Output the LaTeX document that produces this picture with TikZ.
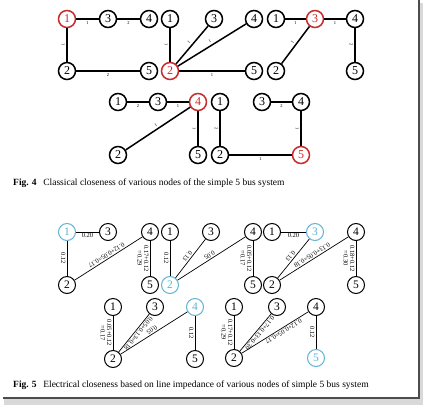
\documentclass[tikz,border=0pt]{standalone}
\usepackage{fontspec}
\setmainfont{Liberation Serif}
\definecolor{nred}{RGB}{200,45,45}
\definecolor{ncyan}{RGB}{95,180,210}
\begin{document}
\begin{tikzpicture}[x=1pt,y=-1pt,
  bus4/.style={circle,draw,line width=1.5pt,minimum size=17pt,inner sep=0pt,fill=white,font=\fontsize{12}{12}\selectfont},
  bus5/.style={circle,draw,line width=1pt,minimum size=17pt,inner sep=0pt,fill=white,font=\fontsize{11.5}{12}\selectfont},
  hot4/.style={draw=nred,text=nred},
  hot5/.style={draw=ncyan,text=ncyan},
  e4/.style={line width=1.5pt},
  e5/.style={line width=0.7pt},
  l4/.style={midway,sloped,allow upside down,below,inner sep=1.5pt,font=\fontsize{4.5}{5}\selectfont},
  l5/.style={midway,sloped,allow upside down,below,inner sep=1.2pt,font=\fontsize{6.5}{6.5}\selectfont,align=center},
  l5r/.style={l5,above},
  captxt/.style={anchor=base west,inner sep=0pt,font=\fontsize{9.5}{11}\selectfont}]
\useasboundingbox (0,0) rectangle (423,405);
\fill[white] (0,0) rectangle (423,405);
% frame shadow
\fill[gray!30] (4,399) rectangle (423,405);
\fill[gray!30] (420,3) rectangle (423,405);
\draw[black!70,line width=2pt] (3,398) -- (419,398) -- (419,0);

% ---------- Fig 4 ----------
% graph A
\node[bus4,hot4] (a1) at (67,19) {1};
\node[bus4] (a3) at (108,19) {3};
\node[bus4] (a4) at (149,19) {4};
\node[bus4] (a2) at (67,71) {2};
\node[bus4] (a5) at (149,71) {5};
\draw[e4] (a1) -- node[l4]{1} (a3);
\draw[e4] (a3) -- node[l4]{2} (a4);
\draw[e4] (a1) -- node[l4]{1} (a2);
\draw[e4] (a2) -- node[l4]{2} (a5);
% graph B
\node[bus4] (b1) at (170,19) {1};
\node[bus4] (b3) at (214,19) {3};
\node[bus4] (b4) at (254,19) {4};
\node[bus4,hot4] (b2) at (170,71) {2};
\node[bus4] (b5) at (254,71) {5};
\draw[e4] (b1) -- node[l4]{1} (b2);
\draw[e4] (b3) -- node[l4]{1} (b2);
\draw[e4] (b4) -- node[l4]{1} (b2);
\draw[e4] (b2) -- node[l4]{1} (b5);
% graph C
\node[bus4] (c1) at (276,19) {1};
\node[bus4,hot4] (c3) at (315,19) {3};
\node[bus4] (c4) at (355,19) {4};
\node[bus4] (c2) at (276,71) {2};
\node[bus4] (c5) at (355,71) {5};
\draw[e4] (c1) -- node[l4]{1} (c3);
\draw[e4] (c3) -- node[l4]{1} (c4);
\draw[e4] (c3) -- node[l4]{1} (c2);
\draw[e4] (c4) -- node[l4]{2} (c5);
% graph D
\node[bus4] (d1) at (118,102) {1};
\node[bus4] (d3) at (158,102) {3};
\node[bus4,hot4] (d4) at (198,102) {4};
\node[bus4] (d2) at (118,155) {2};
\node[bus4] (d5) at (198,155) {5};
\draw[e4] (d1) -- node[l4]{2} (d3);
\draw[e4] (d3) -- node[l4]{1} (d4);
\draw[e4] (d4) -- node[l4]{1} (d2);
\draw[e4] (d4) -- node[l4]{1} (d5);
% graph E
\node[bus4] (e1) at (220,102) {1};
\node[bus4] (e3) at (262,102) {3};
\node[bus4] (e4) at (301,102) {4};
\node[bus4] (e2) at (220,155) {2};
\node[bus4,hot4] (e5) at (301,155) {5};
\draw[e4] (e1) -- node[l4]{2} (e2);
\draw[e4] (e2) -- node[l4]{1} (e5);
\draw[e4] (e4) -- node[l4]{1} (e5);
\draw[e4] (e3) -- node[l4]{2} (e4);

\node[captxt] (cap4) at (13,185) {\textbf{Fig. 4}\hspace{0.7em}Classical closeness of various nodes of the simple 5 bus system};

% ---------- Fig 5 ----------
% graph F
\node[bus5,hot5] (f1) at (67,232) {1};
\node[bus5] (f3) at (108,232) {3};
\node[bus5] (f4) at (150,232) {4};
\node[bus5] (f2) at (67,285) {2};
\node[bus5] (f5) at (150,285) {5};
\draw[e5] (f1) -- node[l5]{0.20} (f3);
\draw[e5] (f1) -- node[l5]{0.12} (f2);
\draw[e5] (f4) -- node[l5]{0.12+0.05=0.17} (f2);
\draw[e5] (f4) -- node[l5]{0.17+0.12\\=0.29} (f5);
% graph G
\node[bus5] (g1) at (170,232) {1};
\node[bus5] (g3) at (211,232) {3};
\node[bus5] (g4) at (253,232) {4};
\node[bus5,hot5] (g2) at (170,285) {2};
\node[bus5] (g5) at (253,285) {5};
\draw[e5] (g1) -- node[l5]{0.12} (g2);
\draw[e5] (g3) -- node[l5]{0.13} (g2);
\draw[e5] (g4) -- node[l5]{0.05} (g2);
\draw[e5] (g4) -- node[l5]{0.05+0.12\\=0.17} (g5);
% graph H
\node[bus5] (h1) at (272,232) {1};
\node[bus5,hot5] (h3) at (315,232) {3};
\node[bus5] (h4) at (356,232) {4};
\node[bus5] (h2) at (272,285) {2};
\node[bus5] (h5) at (356,285) {5};
\draw[e5] (h1) -- node[l5]{0.20} (h3);
\draw[e5] (h3) -- node[l5]{0.13} (h2);
\draw[e5] (h4) -- node[l5]{0.13+0.05=0.18} (h2);
\draw[e5] (h4) -- node[l5]{0.18+0.12\\=0.30} (h5);
% graph I
\node[bus5] (i1) at (113,307) {1};
\node[bus5] (i3) at (155,307) {3};
\node[bus5,hot5] (i4) at (195,307) {4};
\node[bus5] (i2) at (113,359) {2};
\node[bus5] (i5) at (195,359) {5};
\draw[e5] (i1) -- node[l5]{0.05+0.12\\=0.17} (i2);
\draw[e5] (i3) -- node[l5r,pos=0.45]{0.05+0.13=0.18} (i2);
\draw[e5] (i4) -- node[l5]{0.05} (i2);
\draw[e5] (i4) -- node[l5]{0.12} (i5);
% graph J
\node[bus5] (j1) at (234,307) {1};
\node[bus5] (j3) at (277,307) {3};
\node[bus5] (j4) at (316,307) {4};
\node[bus5] (j2) at (234,358) {2};
\node[bus5,hot5] (j5) at (316,358) {5};
\draw[e5] (j1) -- node[l5]{0.17+0.12\\=0.29} (j2);
\draw[e5] (j3) -- node[l5r,pos=0.45]{0.17+0.13=0.30} (j2);
\draw[e5] (j4) -- node[l5r,pos=0.4]{0.12+0.05=0.17} (j2);
\draw[e5] (j4) -- node[l5]{0.12} (j5);

\node[captxt] (cap5) at (13,387) {\textbf{Fig. 5}\hspace{0.7em}Electrical closeness based on line impedance of various nodes of simple 5 bus system};
\end{tikzpicture}
\end{document}
